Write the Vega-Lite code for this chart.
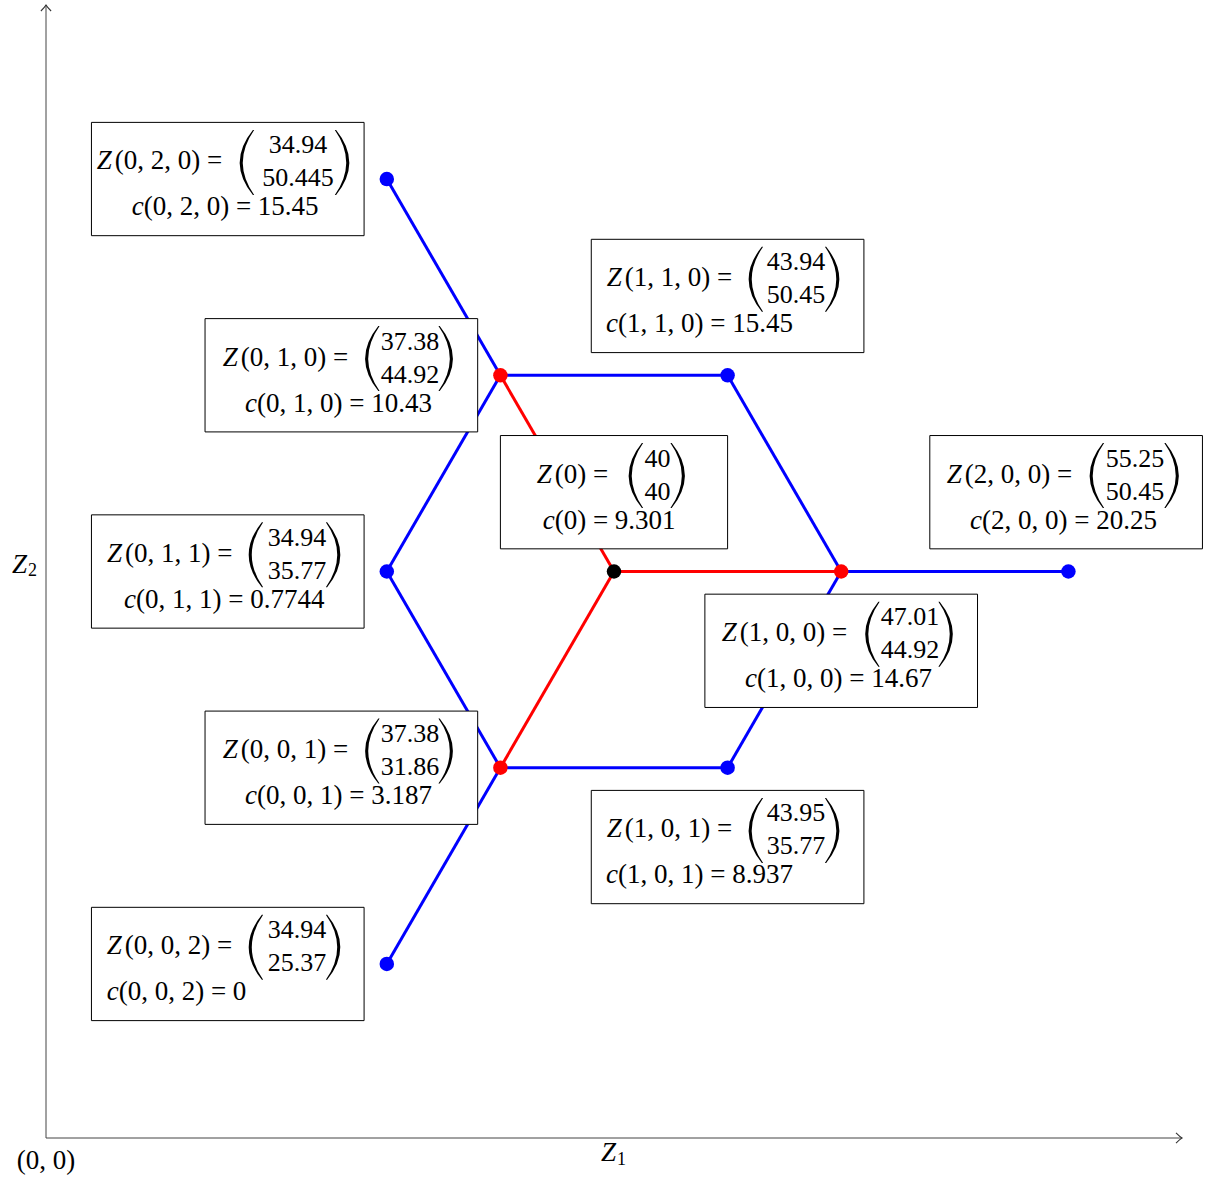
{
  "$schema": "https://vega.github.io/schema/vega-lite/v6.json",
  "width": 1136,
  "height": 1133,
  "autosize": {"type": "none"},
  "padding": {"left": 46, "top": 5, "right": 23, "bottom": 40},
  "background": "white",
  "config": {
    "view": {"stroke": null},
    "text": {"font": "Liberation Serif", "fontSize": 27, "color": "#000000", "baseline": "alphabetic"}
  },
  "resolve": {"scale": {"color": "independent"}},
  "datasets": {
    "axes": [
      {"x": 0, "y": 0, "xe": 10, "ye": 0},
      {"x": 0, "y": 0, "xe": 0, "ye": 10}
    ],
    "tips": [
      {"x": 10, "y": 0, "dir": 0},
      {"x": 0, "y": 10, "dir": 270}
    ],
    "origin": [{"x": 0, "y": 0, "label": "(0, 0)"}],
    "xname": [{"x": 5, "y": 0, "sub": "1"}],
    "yname": [{"x": 0, "y": 5, "sub": "2"}],
    "edges": [
      {"x": 4, "y": 6.732, "xe": 3, "ye": 8.464, "kind": "branch"},
      {"x": 4, "y": 6.732, "xe": 6, "ye": 6.732, "kind": "branch"},
      {"x": 4, "y": 6.732, "xe": 3, "ye": 5, "kind": "branch"},
      {"x": 4, "y": 3.268, "xe": 3, "ye": 5, "kind": "branch"},
      {"x": 4, "y": 3.268, "xe": 6, "ye": 3.268, "kind": "branch"},
      {"x": 4, "y": 3.268, "xe": 3, "ye": 1.536, "kind": "branch"},
      {"x": 7, "y": 5, "xe": 6, "ye": 6.732, "kind": "branch"},
      {"x": 7, "y": 5, "xe": 6, "ye": 3.268, "kind": "branch"},
      {"x": 7, "y": 5, "xe": 9, "ye": 5, "kind": "branch"},
      {"x": 5, "y": 5, "xe": 4, "ye": 6.732, "kind": "root"},
      {"x": 5, "y": 5, "xe": 4, "ye": 3.268, "kind": "root"},
      {"x": 5, "y": 5, "xe": 7, "ye": 5, "kind": "root"}
    ],
    "nodes": [
      {"node": "0", "x": 5, "y": 5, "kind": "root"},
      {"node": "0,1,0", "x": 4, "y": 6.732, "kind": "first"},
      {"node": "0,0,1", "x": 4, "y": 3.268, "kind": "first"},
      {"node": "1,0,0", "x": 7, "y": 5, "kind": "first"},
      {"node": "0,2,0", "x": 3, "y": 8.464, "kind": "second"},
      {"node": "1,1,0", "x": 6, "y": 6.732, "kind": "second"},
      {"node": "0,1,1", "x": 3, "y": 5, "kind": "second"},
      {"node": "0,0,2", "x": 3, "y": 1.536, "kind": "second"},
      {"node": "1,0,1", "x": 6, "y": 3.268, "kind": "second"},
      {"node": "2,0,0", "x": 9, "y": 5, "kind": "second"}
    ],
    "boxes": [
      {"node": "0,2,0", "left": 0.4, "right": 2.8, "bottom": 7.964, "top": 8.964, "zx": 0.446, "pl": 1.761, "mx": 2.218, "pr": 2.614, "cx": 0.754, "zlab": "(0, 2, 0) =", "v1": "34.94", "v2": "50.445", "clab": "(0, 2, 0) = 15.45"},
      {"node": "1,1,0", "left": 4.8, "right": 7.2, "bottom": 6.932, "top": 7.932, "zx": 4.936, "pl": 6.241, "mx": 6.602, "pr": 6.928, "cx": 4.93, "zlab": "(1, 1, 0) =", "v1": "43.94", "v2": "50.45", "clab": "(1, 1, 0) = 15.45"},
      {"node": "0,1,0", "left": 1.4, "right": 3.8, "bottom": 6.232, "top": 7.232, "zx": 1.555, "pl": 2.865, "mx": 3.204, "pr": 3.526, "cx": 1.752, "zlab": "(0, 1, 0) =", "v1": "37.38", "v2": "44.92", "clab": "(0, 1, 0) = 10.43"},
      {"node": "0", "left": 4, "right": 6, "bottom": 5.2, "top": 6.2, "zx": 4.32, "pl": 5.185, "mx": 5.383, "pr": 5.568, "cx": 4.372, "zlab": "(0) =", "v1": "40", "v2": "40", "clab": "(0) = 9.301"},
      {"node": "2,0,0", "left": 7.78, "right": 10.18, "bottom": 5.2, "top": 6.2, "zx": 7.929, "pl": 9.243, "mx": 9.586, "pr": 9.916, "cx": 8.134, "zlab": "(2, 0, 0) =", "v1": "55.25", "v2": "50.45", "clab": "(2, 0, 0) = 20.25"},
      {"node": "0,1,1", "left": 0.4, "right": 2.8, "bottom": 4.5, "top": 5.5, "zx": 0.537, "pl": 1.84, "mx": 2.21, "pr": 2.535, "cx": 0.687, "zlab": "(0, 1, 1) =", "v1": "34.94", "v2": "35.77", "clab": "(0, 1, 1) = 0.7744"},
      {"node": "1,0,0", "left": 5.8, "right": 8.2, "bottom": 3.8, "top": 4.8, "zx": 5.948, "pl": 7.267, "mx": 7.606, "pr": 7.927, "cx": 6.153, "zlab": "(1, 0, 0) =", "v1": "47.01", "v2": "44.92", "clab": "(1, 0, 0) = 14.67"},
      {"node": "0,0,1", "left": 1.4, "right": 3.8, "bottom": 2.768, "top": 3.768, "zx": 1.555, "pl": 2.865, "mx": 3.204, "pr": 3.526, "cx": 1.752, "zlab": "(0, 0, 1) =", "v1": "37.38", "v2": "31.86", "clab": "(0, 0, 1) = 3.187"},
      {"node": "1,0,1", "left": 4.8, "right": 7.2, "bottom": 2.068, "top": 3.068, "zx": 4.936, "pl": 6.241, "mx": 6.602, "pr": 6.928, "cx": 4.93, "zlab": "(1, 0, 1) =", "v1": "43.95", "v2": "35.77", "clab": "(1, 0, 1) = 8.937"},
      {"node": "0,0,2", "left": 0.4, "right": 2.8, "bottom": 1.036, "top": 2.036, "zx": 0.534, "pl": 1.84, "mx": 2.21, "pr": 2.535, "cx": 0.534, "zlab": "(0, 0, 2) =", "v1": "34.94", "v2": "25.37", "clab": "(0, 0, 2) = 0"}
    ]
  },
  "layer": [
    {
      "data": {"name": "axes"},
      "mark": {"type": "rule", "color": "#444444", "strokeWidth": 1},
      "encoding": {
        "x": {"field": "x", "type": "quantitative", "scale": {"domain": [0, 10], "nice": false, "zero": false}, "axis": null},
        "y": {"field": "y", "type": "quantitative", "scale": {"domain": [0, 10], "nice": false, "zero": false}, "axis": null},
        "x2": {"field": "xe"},
        "y2": {"field": "ye"}
      }
    },
    {
      "data": {"name": "edges"},
      "mark": {"type": "rule", "strokeWidth": 3},
      "encoding": {
        "x": {"field": "x", "type": "quantitative"},
        "y": {"field": "y", "type": "quantitative"},
        "x2": {"field": "xe"},
        "y2": {"field": "ye"},
        "color": {"field": "kind", "type": "nominal", "scale": {"domain": ["branch", "root"], "range": ["#0000ff", "#ff0000"]}, "legend": null}
      }
    },
    {
      "data": {"name": "boxes"},
      "mark": {"type": "rect", "fill": "#ffffff", "stroke": "#000000", "strokeWidth": 1},
      "encoding": {
        "x": {"field": "left", "type": "quantitative"},
        "x2": {"field": "right"},
        "y": {"field": "bottom", "type": "quantitative"},
        "y2": {"field": "top"}
      }
    },
    {
      "data": {"name": "boxes"},
      "mark": {"type": "text", "text": "Z", "fontStyle": "italic", "align": "left", "dy": 47},
      "encoding": {
        "x": {"field": "zx", "type": "quantitative"},
        "y": {"field": "top", "type": "quantitative"}
      }
    },
    {
      "data": {"name": "boxes"},
      "mark": {"type": "text", "align": "left", "dx": 18, "dy": 47},
      "encoding": {
        "x": {"field": "zx", "type": "quantitative"},
        "y": {"field": "top", "type": "quantitative"},
        "text": {"field": "zlab"}
      }
    },
    {
      "data": {"name": "boxes"},
      "mark": {"type": "text", "align": "center", "fontSize": 26, "dy": 31},
      "encoding": {
        "x": {"field": "mx", "type": "quantitative"},
        "y": {"field": "top", "type": "quantitative"},
        "text": {"field": "v1"}
      }
    },
    {
      "data": {"name": "boxes"},
      "mark": {"type": "text", "align": "center", "fontSize": 26, "dy": 64},
      "encoding": {
        "x": {"field": "mx", "type": "quantitative"},
        "y": {"field": "top", "type": "quantitative"},
        "text": {"field": "v2"}
      }
    },
    {
      "data": {"name": "boxes"},
      "mark": {"type": "text", "text": "c", "fontStyle": "italic", "align": "left", "dy": 93},
      "encoding": {
        "x": {"field": "cx", "type": "quantitative"},
        "y": {"field": "top", "type": "quantitative"}
      }
    },
    {
      "data": {"name": "boxes"},
      "mark": {"type": "text", "align": "left", "dx": 12, "dy": 93},
      "encoding": {
        "x": {"field": "cx", "type": "quantitative"},
        "y": {"field": "top", "type": "quantitative"},
        "text": {"field": "clab"}
      }
    },
    {
      "data": {"name": "boxes"},
      "mark": {"type": "point", "shape": "M 0.21 -1 Q -0.6 0 0.21 1 L 0.25 1 Q -0.45 0 0.25 -1 Z", "size": 4225, "filled": true, "color": "#000000", "opacity": 1, "strokeWidth": 0, "yOffset": 40},
      "encoding": {
        "x": {"field": "pl", "type": "quantitative"},
        "y": {"field": "top", "type": "quantitative"}
      }
    },
    {
      "data": {"name": "boxes"},
      "mark": {"type": "point", "shape": "M -0.21 -1 Q 0.6 0 -0.21 1 L -0.25 1 Q 0.45 0 -0.25 -1 Z", "size": 4225, "filled": true, "color": "#000000", "opacity": 1, "strokeWidth": 0, "yOffset": 40},
      "encoding": {
        "x": {"field": "pr", "type": "quantitative"},
        "y": {"field": "top", "type": "quantitative"}
      }
    },
    {
      "data": {"name": "nodes"},
      "mark": {"type": "point", "shape": "circle", "size": 210, "filled": true, "opacity": 1, "strokeWidth": 0},
      "encoding": {
        "x": {"field": "x", "type": "quantitative"},
        "y": {"field": "y", "type": "quantitative"},
        "color": {"field": "kind", "type": "nominal", "scale": {"domain": ["root", "first", "second"], "range": ["#000000", "#ff0000", "#0000ff"]}, "legend": null}
      }
    },
    {
      "data": {"name": "tips"},
      "mark": {"type": "point", "shape": "M -1 -0.85 Q -0.35 -0.2 0 0 Q -0.35 0.2 -1 0.85", "size": 144, "filled": false, "opacity": 1, "stroke": "#333333", "strokeWidth": 1.1},
      "encoding": {
        "x": {"field": "x", "type": "quantitative"},
        "y": {"field": "y", "type": "quantitative"},
        "angle": {"field": "dir", "type": "quantitative", "scale": null}
      }
    },
    {
      "data": {"name": "origin"},
      "mark": {"type": "text", "align": "center", "dy": 31},
      "encoding": {
        "x": {"field": "x", "type": "quantitative"},
        "y": {"field": "y", "type": "quantitative"},
        "text": {"field": "label"}
      }
    },
    {
      "data": {"name": "xname"},
      "mark": {"type": "text", "text": "Z", "fontStyle": "italic", "align": "left", "dx": -13, "dy": 23},
      "encoding": {
        "x": {"field": "x", "type": "quantitative"},
        "y": {"field": "y", "type": "quantitative"}
      }
    },
    {
      "data": {"name": "xname"},
      "mark": {"type": "text", "align": "left", "fontSize": 18, "dx": 3, "dy": 26.5},
      "encoding": {
        "x": {"field": "x", "type": "quantitative"},
        "y": {"field": "y", "type": "quantitative"},
        "text": {"field": "sub"}
      }
    },
    {
      "data": {"name": "yname"},
      "mark": {"type": "text", "text": "Z", "fontStyle": "italic", "align": "left", "dx": -34, "dy": 1},
      "encoding": {
        "x": {"field": "x", "type": "quantitative"},
        "y": {"field": "y", "type": "quantitative"}
      }
    },
    {
      "data": {"name": "yname"},
      "mark": {"type": "text", "align": "left", "fontSize": 18, "dx": -18, "dy": 4.5},
      "encoding": {
        "x": {"field": "x", "type": "quantitative"},
        "y": {"field": "y", "type": "quantitative"},
        "text": {"field": "sub"}
      }
    }
  ]
}
